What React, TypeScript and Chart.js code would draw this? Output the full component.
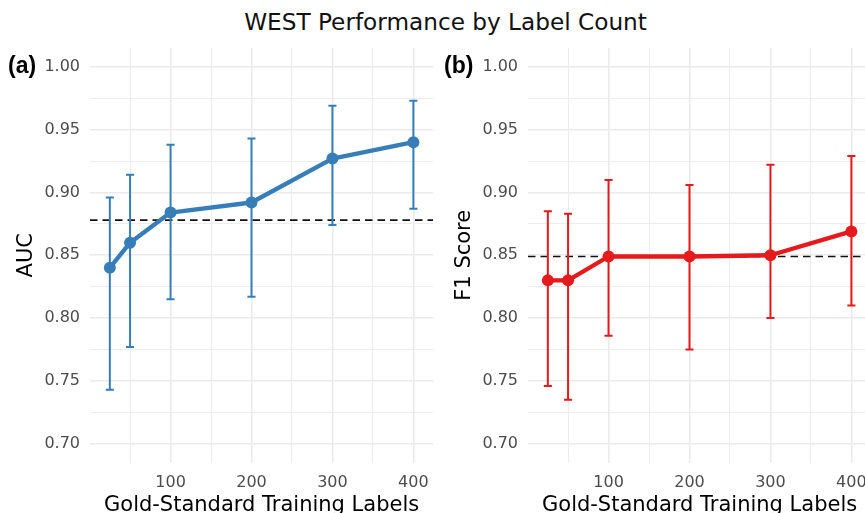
import React, { useEffect, useRef } from "react";
import { Chart, registerables } from "chart.js";

Chart.register(...registerables);

// ---- data ----
const LABEL_COUNTS = [25, 50, 100, 200, 300, 400];

const AUC_MEAN = [0.840, 0.860, 0.884, 0.892, 0.927, 0.940];
const AUC_LOWER = [0.743, 0.777, 0.815, 0.817, 0.874, 0.887];
const AUC_UPPER = [0.896, 0.914, 0.938, 0.943, 0.969, 0.973];
const AUC_BASELINE = 0.878;

const F1_MEAN = [0.830, 0.830, 0.849, 0.849, 0.850, 0.869];
const F1_LOWER = [0.746, 0.735, 0.786, 0.775, 0.800, 0.810];
const F1_UPPER = [0.885, 0.883, 0.910, 0.906, 0.922, 0.929];
const F1_BASELINE = 0.849;

const Y_MAJOR_TICKS = [0.70, 0.75, 0.80, 0.85, 0.90, 0.95, 1.00];
const Y_MINOR_TICKS = [0.725, 0.775, 0.825, 0.875, 0.925, 0.975];
const X_MAJOR_TICKS = [100, 200, 300, 400];
const X_MINOR_TICKS = [50, 150, 250, 350];

const TITLE = "WEST Performance by Label Count";
const X_TITLE = "Gold-Standard Training Labels";

// ---- layout / style ----
const CANVAS_W = 440;
const CANVAS_H = 518;
const PLOT_TOP = 48;
const PLOT_BOTTOM = 462.5;
const PLOT_LEFT = 90;
const PLOT_RIGHT = 434.3;
const X_MIN = 0.5;
const X_MAX = 424.5;
const Y_MIN = 0.685;
const Y_MAX = 1.015;
const CAP_HALF = 5;
const GRID = "#EBEBEB";
const FONT = "'DejaVu Sans', sans-serif";

const near = (v: number, list: number[]) => list.some((t) => Math.abs(t - v) < 1e-6);

type PanelProps = {
  left: number;
  mean: number[];
  lower: number[];
  upper: number[];
  baseline: number;
  color: string;
  yTitle: string;
};

function Panel({ left, mean, lower, upper, baseline, color, yTitle }: PanelProps) {
  const ref = useRef<HTMLCanvasElement>(null);

  useEffect(() => {
    if (!ref.current) return;
    const errorPlugin = {
      id: "errorBarsAndBaseline",
      beforeDatasetsDraw(chart: any) {
        const { ctx, chartArea, scales } = chart;
        const xs = scales.x;
        const ys = scales.y;
        ctx.save();
        ctx.beginPath();
        ctx.rect(chartArea.left, chartArea.top, chartArea.right - chartArea.left, chartArea.bottom - chartArea.top);
        ctx.clip();
        // baseline
        const by = ys.getPixelForValue(baseline);
        ctx.setLineDash([7.5, 5]);
        ctx.strokeStyle = "#111111";
        ctx.lineWidth = 1.7;
        ctx.beginPath();
        ctx.moveTo(chartArea.left, by);
        ctx.lineTo(chartArea.right, by);
        ctx.stroke();
        ctx.setLineDash([]);
        // error bars
        ctx.strokeStyle = color;
        ctx.lineWidth = 2;
        LABEL_COUNTS.forEach((n, i) => {
          const xc = xs.getPixelForValue(n);
          const x0 = xs.getPixelForValue(n - CAP_HALF);
          const x1 = xs.getPixelForValue(n + CAP_HALF);
          const yl = ys.getPixelForValue(lower[i]);
          const yu = ys.getPixelForValue(upper[i]);
          ctx.beginPath();
          ctx.moveTo(xc, yl);
          ctx.lineTo(xc, yu);
          ctx.moveTo(x0, yl);
          ctx.lineTo(x1, yl);
          ctx.moveTo(x0, yu);
          ctx.lineTo(x1, yu);
          ctx.stroke();
        });
        ctx.restore();
      },
    };

    const chart = new Chart(ref.current, {
      type: "line",
      data: {
        datasets: [
          {
            data: LABEL_COUNTS.map((n, i) => ({ x: n, y: mean[i] })),
            borderColor: color,
            backgroundColor: color,
            borderWidth: 4.3,
            pointRadius: 6,
            pointBackgroundColor: color,
            pointBorderColor: color,
            pointBorderWidth: 0,
            tension: 0,
            borderJoinStyle: "round",
            borderCapStyle: "round",
            clip: false,
          } as any,
        ],
      },
      options: {
        animation: false,
        responsive: false,
        devicePixelRatio: 1,
        events: [],
        layout: {
          padding: { top: PLOT_TOP, left: 0, right: CANVAS_W - PLOT_RIGHT, bottom: 0 },
        },
        plugins: {
          legend: { display: false },
          tooltip: { enabled: false },
          title: { display: false },
        },
        scales: {
          x: {
            type: "linear",
            min: X_MIN,
            max: X_MAX,
            afterBuildTicks: (s: any) => {
              s.ticks = [...X_MINOR_TICKS, ...X_MAJOR_TICKS]
                .sort((a, b) => a - b)
                .map((v) => ({ value: v }));
            },
            afterFit: (s: any) => {
              s.height = CANVAS_H - PLOT_BOTTOM;
            },
            border: { display: false },
            grid: {
              color: GRID,
              lineWidth: (c: any) => (c.tick && near(c.tick.value, X_MAJOR_TICKS) ? 1.6 : 0.9),
              drawTicks: false,
              tickLength: 0,
            },
            ticks: {
              autoSkip: false,
              maxRotation: 0,
              padding: 11,
              color: "#4D4D4D",
              font: { family: FONT, size: 16 },
              callback: (v: any) => (near(Number(v), X_MAJOR_TICKS) ? String(v) : ""),
            },
            title: {
              display: true,
              text: X_TITLE,
              color: "#000000",
              font: { family: FONT, size: 21 },
              padding: { top: 0, bottom: 0 },
            },
          },
          y: {
            type: "linear",
            min: Y_MIN,
            max: Y_MAX,
            afterBuildTicks: (s: any) => {
              s.ticks = [...Y_MINOR_TICKS, ...Y_MAJOR_TICKS]
                .sort((a, b) => a - b)
                .map((v) => ({ value: v }));
            },
            afterFit: (s: any) => {
              s.width = PLOT_LEFT;
            },
            border: { display: false },
            grid: {
              color: GRID,
              lineWidth: (c: any) => (c.tick && near(c.tick.value, Y_MAJOR_TICKS) ? 1.6 : 0.9),
              drawTicks: false,
              tickLength: 0,
            },
            ticks: {
              autoSkip: false,
              padding: 10,
              color: "#4D4D4D",
              font: { family: FONT, size: 16 },
              callback: (v: any) => (near(Number(v), Y_MAJOR_TICKS) ? Number(v).toFixed(2) : ""),
            },
            title: {
              display: true,
              text: yTitle,
              color: "#000000",
              font: { family: FONT, size: 21 },
              padding: { top: 14, bottom: 0 },
            },
          },
        },
      } as any,
      plugins: [errorPlugin],
    });
    return () => chart.destroy();
  }, []);

  return (
    <canvas
      ref={ref}
      width={CANVAS_W}
      height={CANVAS_H}
      style={{ position: "absolute", left, top: 0, width: CANVAS_W, height: CANVAS_H }}
    />
  );
}

const tagStyle: React.CSSProperties = {
  position: "absolute",
  top: 54,
  fontFamily: "'Liberation Sans', Arial, sans-serif",
  fontWeight: "bold",
  fontSize: 23,
  lineHeight: 1,
  color: "#000",
};

export default function App() {
  return (
    <div
      style={{
        position: "absolute",
        left: 0,
        top: 0,
        width: 865,
        height: 513,
        overflow: "hidden",
        background: "#ffffff",
      }}
    >
      <div
        style={{
          position: "absolute",
          left: 0,
          top: 10,
          width: 891,
          textAlign: "center",
          fontFamily: FONT,
          fontSize: 23.2,
          lineHeight: 1,
          color: "#111111",
          whiteSpace: "nowrap",
        }}
      >
        {TITLE}
      </div>
      <Panel
        left={0}
        mean={AUC_MEAN}
        lower={AUC_LOWER}
        upper={AUC_UPPER}
        baseline={AUC_BASELINE}
        color="#377EB8"
        yTitle="AUC"
      />
      <Panel
        left={438.3}
        mean={F1_MEAN}
        lower={F1_LOWER}
        upper={F1_UPPER}
        baseline={F1_BASELINE}
        color="#E41A1C"
        yTitle="F1 Score"
      />
      <div style={{ ...tagStyle, left: 8 }}>(a)</div>
      <div style={{ ...tagStyle, left: 444 }}>(b)</div>
    </div>
  );
}
